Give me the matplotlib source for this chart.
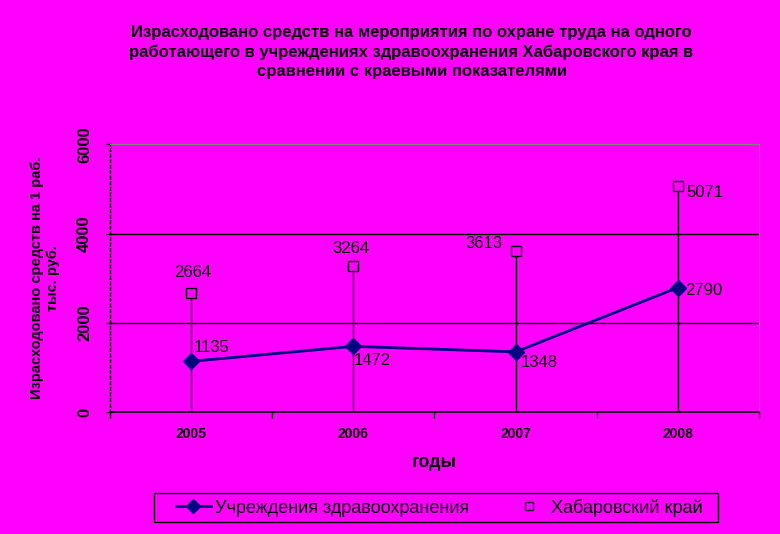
import matplotlib
matplotlib.use('Agg')
from matplotlib import pyplot as plt
from matplotlib.patches import Rectangle
import numpy as np

plt.rcParams['font.family'] = ['Liberation Sans', 'DejaVu Sans']

years = ['2005', '2006', '2007', '2008']
health = [1135, 1472, 1348, 2790]
krai = [2664, 3264, 3613, 5071]

# label offsets in points (dx, dy)
health_off = [(2, 10), (0, -10), (4, -8), (5, -2)]
krai_off = [(-12, 15), (-15, 13), (-36, 5), (6, -5)]

title = ('Израсходовано средств на мероприятия по охране труда на одного\n'
         'работающего в учреждениях здравоохранения Хабаровского края в\n'
         'сравнении с краевыми показателями')

bg = '#FF00FF'
navy = '#000080'

fig = plt.figure(figsize=(7.8, 5.34), dpi=100, facecolor=bg)
ax = fig.add_axes([0.141, 0.2285, 0.832, 0.501], facecolor=bg)

x = np.arange(len(years))
ax.vlines(x, 0, krai, color='black', lw=1, zorder=2)
l1, = ax.plot(x, health, color=navy, lw=2, marker='D', ms=8,
              mfc=navy, mec=navy, zorder=4, label='Учреждения здравоохранения')
l2, = ax.plot(x, krai, ls='none', marker='s', ms=7, mfc=bg, mec='black',
              mew=1, zorder=4, label='Хабаровский край')

for xi, v, (dx, dy) in zip(x, health, health_off):
    ax.annotate(str(v), (xi, v), xytext=(dx, dy), textcoords='offset points',
                fontsize=12, va='center', ha='left')
for xi, v, (dx, dy) in zip(x, krai, krai_off):
    ax.annotate(str(v), (xi, v), xytext=(dx, dy), textcoords='offset points',
                fontsize=12, va='center', ha='left')

ax.set_xlim(-0.5, 3.5)
ax.set_ylim(0, 6000)
ax.set_yticks([0, 2000, 4000, 6000])
ax.set_yticklabels(['0', '2000', '4000', '6000'], rotation=90, va='center',
                   fontsize=12, fontweight='bold')
ax.set_xticks(x)
ax.set_xticklabels(years, fontsize=10, fontweight='bold')
ax.tick_params(axis='x', which='major', length=0, pad=11)
ax.set_xticks(np.arange(-0.5, 4, 1), minor=True)
ax.tick_params(axis='x', which='minor', length=4, direction='out', width=1)
ax.tick_params(axis='y', length=3, width=1, pad=10)

for yv in [2000, 4000]:
    ax.axhline(yv, color='black', lw=1, zorder=1)

ax.spines['top'].set_color('#808080')
ax.spines['right'].set_color('#808080')
ax.spines['left'].set_linestyle((0, (2, 2)))
ax.spines['left'].set_linewidth(1)
ax.spines['bottom'].set_linewidth(1.2)

ax.set_xlabel('годы', fontsize=13, fontweight='bold', labelpad=9)
ax.set_ylabel('Израсходовано средств на 1 раб.\nтыс. руб.', fontsize=10.5,
              fontweight='bold', labelpad=12)

fig.text(0.5276, 0.903, title, ha='center', va='center', fontsize=12,
         fontweight='bold', linespacing=1.37)

leg = fig.legend(handles=[l1, l2], loc='center left',
                 bbox_to_anchor=(0.2256, 0.0496), ncol=2, frameon=False,
                 fontsize=13, columnspacing=2.35, handlelength=1.94,
                 handletextpad=0.22, borderpad=0, markerscale=0.9,
                 borderaxespad=0)
fig.patches.append(Rectangle((0.1974, 0.0225), 0.7231, 0.0543,
                             transform=fig.transFigure, fill=False,
                             edgecolor='black', lw=1))

fig.savefig('out.png', dpi=100, facecolor=bg)
